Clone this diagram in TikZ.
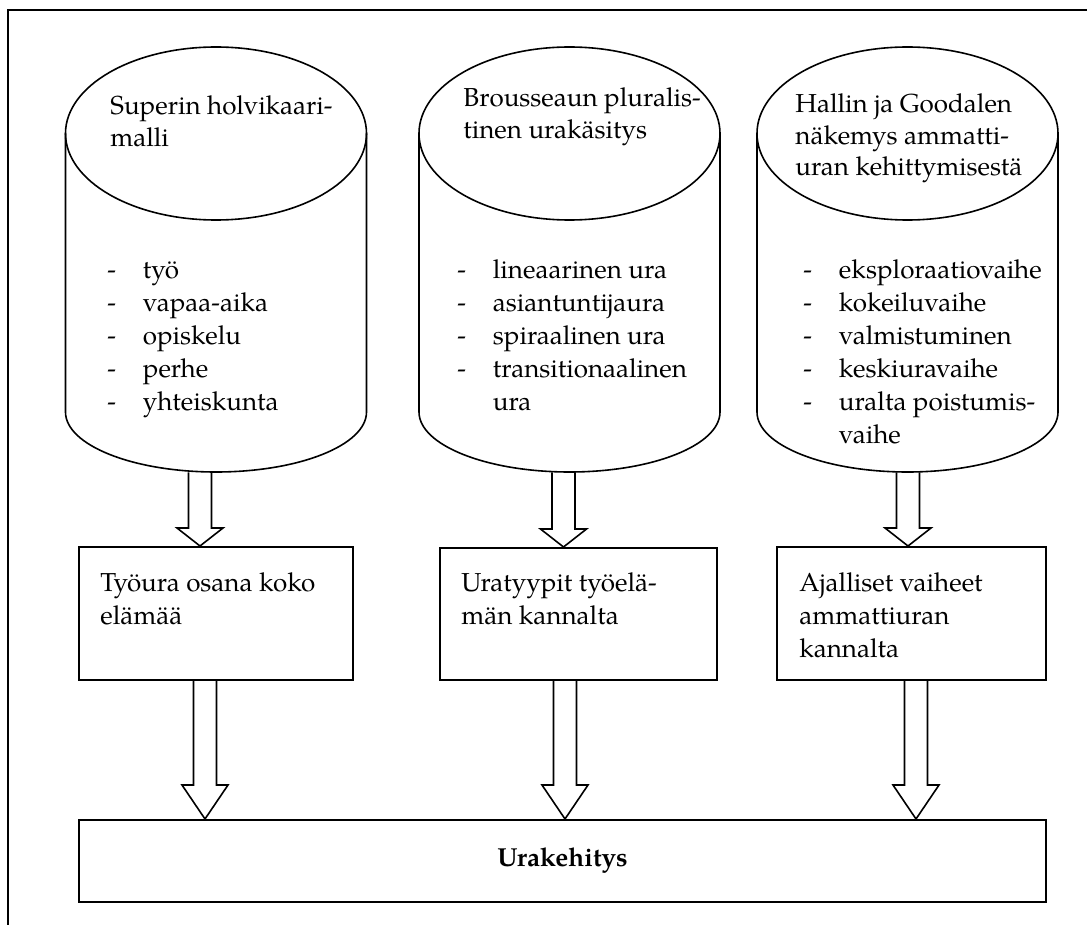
\documentclass[tikz,border=0pt]{standalone}
\usepackage{fontspec}
\setmainfont{TeX Gyre Pagella}
\usetikzlibrary{calc}
\newcommand\li[1]{\makebox[17.75pt][l]{-}#1}
\newcommand\blockarr[3]{%
  \draw[barrow] let \p1=(#1), \p2=(#2) in
    (\x1-5.75pt,\y1) -- (\x1-5.75pt,\y2+#3) -- (\x1-11.5pt,\y2+#3) -- (\x1,\y2)
    -- (\x1+11.5pt,\y2+#3) -- (\x1+5.75pt,\y2+#3) -- (\x1+5.75pt,\y1);}
\newcommand\cylinderat[2]{%
  \node[cylnode] (#1) at (#2,259.5) {};
  \draw[cylline] (#2,133.5) ellipse[x radius=75.25pt, y radius=43.25pt];
  \draw[cylline] (#2-150.5,133.5) -- (#2-150.5,412)
    arc[start angle=180, end angle=360, x radius=75.25pt, y radius=30pt]
    -- (#2+150.5,133.5);}
\begin{document}
\begin{tikzpicture}[x=0.5pt,y=-0.5pt,
  frameline/.style={line width=1pt},
  cylnode/.style={rectangle, draw=none, minimum width=150.5pt, minimum height=212.5pt, inner sep=0pt},
  cylline/.style={line width=0.8pt},
  boxnode/.style={rectangle, draw, line width=1pt, inner sep=0pt},
  barrow/.style={line width=0.8pt, line join=miter},
  ttl/.style={font=\fontsize{13}{15.75}\selectfont, inner sep=0pt, align=left, anchor=base west},
  txt/.style={font=\fontsize{13}{16.5}\selectfont, inner sep=0pt, align=left, anchor=base west}]
\useasboundingbox (0,0) rectangle (1087,925);
\draw[frameline] (8,925) -- (8,10) -- (1087,10);

% cylinders
\cylinderat{cyl1}{216}
\cylinderat{cyl2}{569.5}
\cylinderat{cyl3}{907.5}

% (anchor = baseline of the last line)
\node[ttl] (h1) at (110,146.5) {Superin holvikaari-\\malli};
\node[ttl] (h2) at (463,138.5) {Brousseaun pluralis-\\tinen urakäsitys};
\node[ttl] (h3) at (795,176) {Hallin ja Goodalen\\näkemys ammatti-\\uran kehittymisestä};

\node[txt] (l1) at (107,410) {\li{työ}\\\li{vapaa-aika}\\\li{opiskelu}\\\li{perhe}\\\li{yhteiskunta}};
\node[txt] (l2) at (457,410) {\li{lineaarinen ura}\\\li{asiantuntijaura}\\\li{spiraalinen ura}\\\li{transitionaalinen}\\\hspace*{17.75pt}ura};
\node[txt] (l3) at (803,443) {\li{eksploraatiovaihe}\\\li{kokeiluvaihe}\\\li{valmistuminen}\\\li{keskiuravaihe}\\\li{uralta poistumis-}\\\hspace*{17.75pt}vaihe};

% middle boxes
\node[boxnode, minimum width=137pt, minimum height=66.5pt] (box1) at (216,613.5) {};
\node[boxnode, minimum width=138.5pt, minimum height=66pt] (box2) at (578.5,614) {};
\node[boxnode, minimum width=134.5pt, minimum height=66.5pt] (box3) at (911.5,613.5) {};
\node[txt] (b1) at (100,624) {Työura osana koko\\elämää};
\node[txt] (b2) at (461,624) {Uratyypit työelä-\\män kannalta};
\node[txt] (b3) at (799,657) {Ajalliset vaiheet\\ammattiuran\\kannalta};

% bottom box
\node[boxnode, minimum width=483.5pt, minimum height=41pt,
      font=\fontsize{13}{16.5}\selectfont\bfseries] (ura) at (562.5,861) {\raisebox{-1.2pt}{Urakehitys}};

% arrow positions
\coordinate (ax1) at (200,0);
\coordinate (ax2) at (563.5,0);
\coordinate (ax3) at (908,0);
\coordinate (bx1) at (205,0);
\coordinate (bx2) at (565,0);
\coordinate (bx3) at (916,0);

\blockarr{cyl1.south -| ax1}{box1.north -| ax1}{9pt}
\blockarr{cyl2.south -| ax2}{box2.north -| ax2}{9pt}
\blockarr{cyl3.south -| ax3}{box3.north -| ax3}{9pt}
\blockarr{box1.south -| bx1}{ura.north -| bx1}{17pt}
\blockarr{box2.south -| bx2}{ura.north -| bx2}{17pt}
\blockarr{box3.south -| bx3}{ura.north -| bx3}{17pt}
\end{tikzpicture}
\end{document}
